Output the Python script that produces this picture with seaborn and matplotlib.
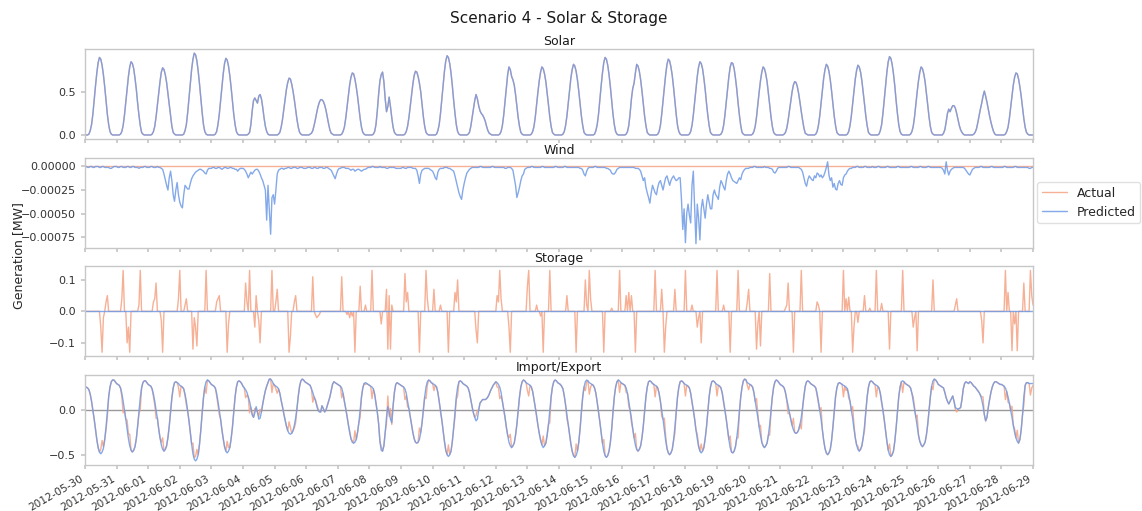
import numpy as np
import pandas as pd
import matplotlib
matplotlib.use("Agg")
import matplotlib.pyplot as plt
import matplotlib.dates as mdates
import seaborn as sns

# ---------------------------------------------------------------------------
# Hourly series, 2012-05-30 00:00 .. 2012-06-29 00:00 (one row per day + end)
# ---------------------------------------------------------------------------
START = "2012-05-30 00:00"

# Solar generation [MW] (forecast and measurement coincide)
solar = [
    [0,0,0,.01,.05,.12,.24,.41,.57,.72,.84,.90,.88,.81,.70,.56,.40,.24,.12,.04,.01,0,0,0],
    [0,0,0,.01,.04,.11,.23,.38,.54,.68,.79,.85,.83,.77,.66,.53,.37,.23,.11,.03,.01,0,0,0],
    [0,0,0,.01,.04,.10,.21,.35,.49,.62,.73,.78,.76,.70,.61,.48,.34,.21,.10,.03,.01,0,0,0],
    [0,0,0,.01,.05,.12,.26,.43,.60,.76,.88,.95,.93,.86,.74,.59,.42,.26,.12,.04,.01,0,0,0],
    [0,0,0,.01,.04,.12,.24,.40,.56,.71,.83,.89,.87,.80,.69,.55,.39,.24,.12,.04,.01,0,0,0],
    [0,0,0,0,.01,.03,.12,.28,.40,.43,.40,.37,.45,.47,.42,.32,.20,.10,.04,.01,0,0,0,0],
    [0,0,0,.01,.03,.09,.18,.30,.42,.53,.61,.66,.65,.59,.51,.41,.29,.18,.09,.03,.01,0,0,0],
    [0,0,0,.01,.02,.05,.11,.18,.26,.33,.38,.41,.41,.39,.35,.29,.21,.13,.06,.02,.01,0,0,0],
    [0,0,0,.01,.04,.09,.19,.32,.45,.58,.67,.72,.71,.65,.56,.45,.32,.19,.09,.03,.01,0,0,0],
    [0,0,0,.01,.04,.12,.28,.47,.63,.70,.73,.62,.42,.27,.33,.44,.33,.20,.09,.03,.01,0,0,0],
    [0,0,0,.01,.04,.10,.20,.33,.47,.59,.69,.74,.73,.68,.60,.50,.35,.21,.10,.03,.01,0,0,0],
    [0,0,0,.01,.05,.12,.25,.41,.58,.74,.86,.92,.90,.83,.72,.57,.40,.25,.12,.04,.01,0,0,0],
    [0,0,0,.01,.03,.10,.20,.30,.40,.47,.42,.34,.28,.25,.23,.20,.16,.10,.05,.02,.01,0,0,0],
    [0,0,0,.01,.04,.11,.23,.39,.55,.70,.79,.76,.68,.64,.58,.47,.34,.20,.10,.03,.01,0,0,0],
    [0,0,0,.01,.04,.10,.21,.36,.50,.63,.73,.79,.77,.71,.62,.49,.35,.21,.10,.03,.01,0,0,0],
    [0,0,0,.01,.04,.11,.22,.37,.52,.66,.76,.82,.80,.74,.64,.51,.36,.22,.11,.03,.01,0,0,0],
    [0,0,0,.01,.05,.12,.24,.41,.57,.72,.84,.90,.88,.81,.70,.56,.40,.24,.12,.04,.01,0,0,0],
    [0,0,0,.01,.04,.11,.25,.42,.54,.60,.72,.82,.80,.74,.64,.51,.36,.22,.11,.03,.01,0,0,0],
    [0,0,0,.01,.04,.11,.24,.40,.55,.70,.82,.88,.86,.79,.69,.55,.39,.24,.11,.04,.01,0,0,0],
    [0,0,0,.01,.04,.11,.23,.38,.54,.68,.79,.85,.83,.77,.66,.53,.37,.23,.11,.03,.01,0,0,0],
    [0,0,0,.01,.04,.11,.23,.38,.54,.68,.79,.84,.83,.77,.66,.53,.37,.23,.11,.03,.01,0,0,0],
    [0,0,0,.01,.04,.10,.21,.36,.50,.63,.73,.79,.77,.71,.62,.49,.35,.21,.10,.03,.01,0,0,0],
    [0,0,0,.01,.03,.08,.17,.28,.39,.50,.58,.62,.61,.56,.48,.38,.27,.17,.08,.02,.01,0,0,0],
    [0,0,0,.01,.04,.11,.22,.37,.52,.66,.76,.82,.80,.74,.64,.51,.36,.22,.11,.03,.01,0,0,0],
    [0,0,0,.01,.04,.11,.22,.36,.51,.65,.75,.81,.79,.73,.63,.50,.36,.22,.11,.03,.01,0,0,0],
    [0,0,0,.01,.05,.12,.25,.41,.58,.73,.85,.91,.89,.82,.71,.57,.40,.25,.12,.04,.01,0,0,0],
    [0,0,0,.01,.04,.10,.21,.36,.50,.63,.73,.79,.77,.71,.62,.49,.35,.21,.10,.03,.01,0,0,0],
    [0,0,0,0,.02,.06,.15,.25,.30,.27,.31,.34,.34,.31,.25,.18,.11,.06,.03,.01,0,0,0,0],
    [0,0,0,.01,.03,.07,.14,.22,.30,.37,.45,.51,.45,.38,.30,.22,.15,.09,.04,.01,0,0,0,0],
    [0,0,0,.01,.04,.09,.19,.32,.45,.58,.67,.72,.71,.65,.56,.45,.32,.19,.09,.03,.01,0,0,0],
]
solar_end = 0.0

# Wind generation forecast, in units of 1e-5 MW (the measured output stays at 0)
wind_pred_e5 = [
    [0,0,-1,-1,0,0,-1,-1,0,0,0,-1,-1,0,0,-1,-1,-1,-1,-2,-2,-1,0,0],
    [0,-1,-1,0,0,-1,-1,-1,0,0,-1,-1,0,0,-1,-1,-1,-2,-1,-1,-1,0,0,-1],
    [-1,-1,0,0,-1,-1,-1,0,-1,-1,-2,-3,-8,-14,-20,-25,-12,-5,-15,-30,-37,-25,-17,-30],
    [-38,-42,-44,-30,-20,-22,-24,-24,-18,-13,-10,-8,-6,-5,-4,-3,-3,-4,-5,-7,-8,-4,-2,-2],
    [-2,-1,-1,-2,-2,-1,-1,-2,-3,-2,-1,-1,-2,-2,-1,-1,-2,-2,-3,-3,-5,-3,-2,-2],
    [-2,-3,-5,-8,-12,-9,-6,-8,-6,-4,-3,-3,-5,-8,-12,-15,-20,-25,-57,-20,-45,-72,-33,-30],
    [-40,-25,-8,-4,-3,-2,-2,-3,-2,-2,-1,-1,-2,-2,-1,-1,-1,-2,-2,-1,-1,-1,-2,-2],
    [-2,-1,-1,-1,-2,-2,-1,-1,-2,-2,-1,-1,-1,-2,-2,-1,-1,-2,-3,-4,-7,-10,-13,-8],
    [-4,-2,-2,-1,-1,-1,-2,-2,-2,-3,-4,-3,-3,-5,-4,-3,-3,-4,-5,-4,-3,-3,-2,-1],
    [-1,-1,0,0,-1,-1,-1,-1,0,-1,-1,-1,-1,-2,-2,-1,-1,-1,-1,-1,-2,-2,-2,-2],
    [-2,-1,-1,-2,-2,-1,-1,-1,-1,-2,-2,-2,-4,-10,-18,-8,-4,-3,-2,-2,-2,-2,-3,-4],
    [-5,-8,-12,-14,-6,-3,-2,-2,-2,-1,-1,-1,-2,-2,-3,-4,-5,-10,-16,-22,-28,-32,-35,-25],
    [-18,-12,-7,-5,-3,-2,-1,-1,-1,-1,-1,-1,0,0,-1,-1,-1,-1,-1,-1,-1,0,0,-1],
    [-1,-1,-1,-1,-1,-1,-1,-2,-2,-1,-1,-1,-2,-4,-12,-20,-33,-28,-22,-15,-10,-8,-3,-2],
    [-1,-1,-1,0,0,-1,-1,-1,-1,-1,-1,0,0,-1,-1,-1,-1,-1,-1,-1,-1,0,0,-1],
    [-1,-1,-1,-1,0,0,-1,-1,-1,-1,-1,-1,-1,-1,-1,-1,-2,-2,-4,-8,-10,-5,-2,-1],
    [-1,-1,-1,0,0,-1,-1,-1,-1,-1,-1,-1,-2,-2,-3,-4,-7,-8,-8,-6,-3,-2,-1,-1],
    [-1,-1,-1,-1,-1,-1,-1,-1,-1,-1,-2,-2,-2,-3,-5,-10,-15,-12,-22,-28,-33,-39,-28,-20],
    [-24,-28,-30,-22,-17,-15,-20,-25,-18,-12,-10,-15,-20,-15,-12,-10,-13,-15,-14,-12,-12,-35,-67,-45],
    [-81,-50,-40,-52,-60,-20,-5,-45,-82,-40,-55,-78,-45,-35,-45,-55,-40,-30,-38,-45,-45,-30,-25,-30],
    [-32,-35,-22,-15,-18,-22,-25,-15,-8,-5,-8,-12,-15,-16,-17,-18,-15,-12,-14,-8,-5,-3,-2,-2],
    [-2,-1,-1,-1,0,0,-1,-1,-1,-1,-1,-1,0,-1,-1,-1,-2,-2,-3,-6,-7,-5,-2,-1],
    [-1,-1,-1,-1,-1,-1,0,0,-1,-1,-1,-1,-1,-1,-1,-2,-3,-6,-12,-18,-21,-14,-10,-12],
    [-14,-15,-10,-12,-7,-8,-11,-9,-12,-10,-6,-1,5,-9,-15,-12,-22,-18,-24,-25,-18,-15,-19,-20],
    [-12,-9,-8,-5,-3,-2,-2,-1,-1,-1,0,0,-1,-1,-1,-1,0,0,-1,-1,-1,-1,0,-1],
    [-1,-1,0,0,-1,-1,-1,-1,-1,0,0,-1,-1,-1,-1,-1,-1,0,0,-1,-1,-1,-1,-1],
    [-1,-1,-1,0,0,-1,-1,-1,-1,-1,0,0,-1,-1,-1,-1,0,0,-1,-1,-1,-1,-1,-1],
    [-1,-1,-1,-2,-4,-8,5,-4,-9,-5,-3,-2,-1,-1,-1,-1,-1,-1,-1,-1,-2,-4,-6,-8],
    [-9,-6,-3,-2,-1,-1,-1,-1,0,0,-1,-1,-1,-1,-1,-1,0,0,-1,-1,-1,-1,-1,-1],
    [-1,-1,0,0,-1,-1,-1,-1,-1,-1,0,0,-1,-1,-1,-1,-1,-1,-1,-1,-1,-2,-2,-1],
]
wind_pred_end = -1
wind_actual_level = 0.0

# Battery dispatch [MW], measured (+ discharge / - charge); the forecast holds 0
storage = [
    [0,0,0,0,0,0,0,0,0,0,0,0,-.05,-.13,-.02,0,.03,.05,0,0,0,0,0,0],
    [0,0,0,0,.04,.13,0,0,-.10,-.05,-.13,0,0,0,0,0,0,.02,.13,0,0,0,0,0],
    [0,0,0,0,.03,.04,.09,0,0,0,-.03,-.13,0,0,0,0,0,0,0,0,0,0,0,.04],
    [.13,0,0,0,.02,.04,0,0,0,0,-.12,-.02,-.05,-.11,0,0,0,0,0,0,.13,0,0,0],
    [0,0,0,0,.03,.04,.05,0,0,0,0,0,-.13,-.04,0,0,0,0,0,0,0,0,0,0],
    [0,0,.09,.03,0,.13,0,0,0,-.05,.05,0,-.03,-.10,0,0,0,0,0,0,0,0,.13,0],
    [0,.03,.07,0,0,0,0,0,0,0,0,-.13,-.08,0,0,.03,.05,0,0,0,0,0,0,0],
    [0,0,0,0,0,.11,0,-.01,-.02,-.015,-.01,0,0,0,0,0,0,0,0,0,0,0,0,0],
    [0,0,0,.11,0,0,0,-.01,0,-.02,0,-.015,0,-.13,0,0,0,.08,0,0,0,.02,0,0],
    [0,0,.13,0,0,0,0,0,0,-.04,0,0,0,.07,-.12,.05,-.12,.02,0,0,0,0,0,0],
    [0,0,0,.12,.03,.06,0,0,0,0,0,0,0,0,-.13,0,0,0,0,.13,.04,0,0,0],
    [0,.07,0,0,0,0,.02,0,0,0,0,0,-.13,0,0,0,0,.06,.03,.10,0,0,0,0],
    [0,0,0,0,0,0,0,0,0,-.06,-.10,0,0,0,0,0,0,0,0,0,0,0,0,0],
    [0,.05,.03,.13,.04,0,0,0,0,0,-.05,-.13,0,0,0,0,0,0,0,0,0,0,0,0],
    [.08,.13,0,0,0,0,0,.02,0,0,-.015,0,-.13,0,0,0,0,.13,0,0,0,0,0,0],
    [0,0,0,0,0,0,.05,0,0,0,0,0,0,-.13,0,0,0,0,0,0,.10,.02,0,.13],
    [.04,0,0,0,0,0,0,0,0,0,-.13,0,0,0,0,0,.01,0,0,0,0,0,.13,0],
    [0,0,0,.05,0,.06,0,.05,0,0,-.13,0,0,0,0,0,0,0,0,0,0,0,0,0],
    [0,.13,0,0,0,0,.07,0,-.13,-.05,0,0,0,0,0,0,.07,0,0,0,0,0,0,0],
    [.13,0,0,0,0,.02,0,0,0,-.05,-.02,0,-.10,0,0,0,0,0,0,0,0,0,0,0],
    [.13,0,0,0,0,.02,0,0,0,0,-.13,0,0,0,0,0,.13,0,0,0,0,0,0,.03],
    [.07,0,0,0,0,0,-.12,-.04,0,-.11,0,0,0,0,0,0,.12,0,0,0,0,0,0,0],
    [0,0,0,0,.01,.02,.09,0,0,0,-.13,0,0,0,0,0,.13,0,0,0,0,0,0,0],
    [0,0,0,0,.03,.02,0,-.13,0,0,0,0,0,0,0,0,0,0,0,0,0,0,0,0],
    [.13,0,.04,0,.045,0,0,-.13,-.05,0,0,-.035,0,0,0,0,.05,0,0,0,.01,0,0,0],
    [0,.13,0,0,0,.025,0,0,0,0,0,-.12,0,0,0,0,0,0,0,0,0,.13,0,0],
    [0,0,0,0,0,-.05,-.02,0,-.125,0,0,0,0,0,0,0,0,0,0,0,.10,0,0,0],
    [0,0,0,0,0,0,0,0,0,0,0,0,0,.02,.04,0,0,0,0,0,0,0,0,0],
    [0,0,0,0,0,0,0,0,0,-.03,-.10,0,0,0,0,0,0,0,0,0,0,0,0,0],
    [0,0,0,.13,0,.06,0,0,-.125,0,-.04,0,-.125,0,0,0,0,.09,0,0,0,0,.13,.05],
]
storage_end = 0.02
storage_pred_level = 0.0

# Forecast net import (+) / export (-) at the grid connection [MW]
grid_pred = [
    [.26,.26,.25,.23,.18,.10,.00,-.10,-.22,-.33,-.42,-.47,-.49,-.47,-.43,-.33,-.19,-.02,.15,.26,.32,.34,.34,.32],
    [.30,.29,.28,.25,.19,.10,.00,-.10,-.21,-.32,-.40,-.45,-.47,-.45,-.41,-.32,-.18,-.02,.14,.25,.31,.33,.33,.31],
    [.29,.28,.27,.24,.18,.10,.00,-.09,-.21,-.31,-.39,-.44,-.46,-.44,-.40,-.31,-.18,-.02,.14,.25,.31,.32,.31,.30],
    [.28,.27,.26,.24,.18,.10,-.01,-.12,-.25,-.38,-.49,-.55,-.57,-.55,-.50,-.38,-.22,-.03,.14,.26,.32,.34,.33,.31],
    [.29,.28,.27,.25,.19,.10,.00,-.10,-.22,-.32,-.41,-.46,-.48,-.46,-.42,-.32,-.19,-.02,.15,.26,.32,.33,.32,.30],
    [.27,.25,.23,.20,.15,.10,.03,-.05,-.08,-.03,.04,-.02,-.10,-.09,-.02,.07,.15,.22,.27,.31,.35,.35,.33,.30],
    [.28,.27,.26,.24,.19,.11,.04,-.04,-.11,-.18,-.23,-.26,-.27,-.26,-.23,-.17,-.09,.02,.16,.27,.33,.35,.34,.32],
    [.31,.30,.29,.28,.24,.20,.15,.11,.05,.00,-.02,-.02,.05,.02,-.02,.00,.05,.10,.15,.22,.29,.32,.31,.30],
    [.29,.28,.27,.25,.19,.10,.02,-.07,-.16,-.25,-.32,-.36,-.37,-.36,-.33,-.25,-.14,.00,.15,.25,.30,.31,.30,.29],
    [.28,.27,.26,.24,.18,.08,-.02,-.15,-.35,-.45,-.46,-.40,-.25,-.08,.04,-.02,-.10,-.14,.05,.20,.29,.31,.30,.29],
    [.28,.27,.26,.24,.19,.10,.02,-.07,-.16,-.25,-.32,-.36,-.37,-.36,-.33,-.25,-.14,.00,.15,.26,.32,.34,.33,.31],
    [.30,.29,.28,.26,.20,.10,.00,-.11,-.23,-.35,-.45,-.50,-.52,-.50,-.46,-.35,-.20,-.02,.15,.26,.32,.33,.32,.30],
    [.29,.28,.27,.25,.20,.12,.04,-.03,-.08,-.12,-.10,.00,.08,.10,.12,.12,.12,.13,.15,.18,.22,.25,.28,.30],
    [.32,.31,.29,.26,.20,.10,.01,-.08,-.19,-.28,-.36,-.40,-.42,-.40,-.37,-.28,-.16,-.01,.15,.26,.32,.34,.33,.31],
    [.30,.29,.28,.26,.21,.12,.03,-.06,-.17,-.26,-.34,-.39,-.42,-.40,-.37,-.28,-.16,-.01,.15,.26,.32,.34,.33,.31],
    [.30,.29,.27,.24,.16,.06,-.05,-.16,-.27,-.38,-.46,-.51,-.53,-.51,-.46,-.36,-.21,-.02,.15,.26,.32,.34,.33,.31],
    [.30,.29,.28,.25,.19,.09,-.02,-.13,-.25,-.37,-.46,-.51,-.53,-.51,-.46,-.36,-.21,-.02,.15,.26,.32,.34,.33,.31],
    [.30,.29,.28,.25,.19,.10,.00,-.09,-.21,-.31,-.39,-.44,-.46,-.44,-.40,-.31,-.18,-.02,.15,.26,.32,.33,.32,.30],
    [.29,.28,.27,.25,.19,.10,.00,-.10,-.22,-.34,-.43,-.48,-.50,-.48,-.44,-.34,-.19,-.02,.15,.26,.32,.33,.32,.30],
    [.29,.28,.27,.25,.19,.10,.00,-.10,-.22,-.32,-.41,-.46,-.48,-.46,-.42,-.32,-.19,-.02,.15,.26,.32,.33,.32,.30],
    [.29,.28,.27,.25,.19,.10,.00,-.10,-.22,-.33,-.42,-.47,-.48,-.46,-.41,-.31,-.18,-.02,.15,.26,.33,.35,.34,.31],
    [.30,.29,.28,.26,.20,.10,.01,-.08,-.19,-.28,-.36,-.40,-.42,-.40,-.37,-.28,-.16,-.01,.15,.26,.32,.34,.33,.31],
    [.29,.28,.27,.25,.20,.12,.05,-.03,-.10,-.17,-.22,-.25,-.26,-.25,-.22,-.16,-.08,.03,.16,.27,.32,.33,.32,.30],
    [.29,.28,.27,.25,.19,.10,.00,-.10,-.22,-.34,-.43,-.48,-.50,-.48,-.44,-.34,-.19,-.02,.15,.25,.30,.31,.30,.29],
    [.28,.27,.26,.24,.18,.10,.00,-.09,-.21,-.31,-.39,-.44,-.46,-.44,-.40,-.31,-.18,-.02,.15,.26,.32,.33,.32,.30],
    [.29,.28,.27,.25,.19,.10,.00,-.11,-.23,-.35,-.45,-.50,-.52,-.50,-.46,-.35,-.20,-.02,.15,.26,.32,.33,.32,.30],
    [.29,.28,.27,.25,.19,.10,.01,-.08,-.18,-.28,-.35,-.39,-.41,-.39,-.36,-.28,-.16,-.01,.15,.27,.33,.35,.34,.32],
    [.29,.28,.27,.26,.25,.20,.14,.10,.07,.10,.13,.16,.10,.03,.02,.01,.02,.03,.12,.24,.30,.32,.31,.30],
    [.32,.31,.29,.27,.26,.24,.22,.20,.17,.12,.05,-.05,-.12,-.08,.03,.12,.20,.26,.30,.32,.32,.31,.30,.29],
    [.29,.28,.27,.25,.21,.15,.08,.00,-.08,-.17,-.25,-.31,-.35,-.37,-.33,-.22,-.05,.15,.28,.31,.31,.30,.30,.30],
]
grid_pred_end = 0.30

TITLES = ["Solar", "Wind", "Storage", "Import/Export"]
C_ACTUAL = "#f5a283"
C_PRED = "#6f9ae6"


def hourly(rows, last):
    return np.concatenate([np.ravel(np.asarray(rows, dtype=float)), [last]])


times = pd.date_range(START, periods=30 * 24 + 1, freq="h")

solar_act = hourly(solar, solar_end)
solar_fc = solar_act.copy()
wind_fc = hourly(wind_pred_e5, wind_pred_end) * 1e-5
wind_act = np.full(len(times), wind_actual_level)
storage_act = hourly(storage, storage_end)
storage_fc = np.full(len(times), storage_pred_level)
grid_fc = hourly(grid_pred, grid_pred_end)
# metered grid exchange = forecast position minus what the battery supplied
grid_act = grid_fc - storage_act

panels = [
    (solar_act, solar_fc),
    (wind_act, wind_fc),
    (storage_act, storage_fc),
    (grid_act, grid_fc),
]

sns.set_theme(style="white")
plt.rcParams.update({
    "font.family": ["DejaVu Sans"],
    "axes.edgecolor": "0.78",
    "axes.linewidth": 1.0,
    "xtick.bottom": True,
    "ytick.left": True,
    "xtick.color": "0.78",
    "ytick.color": "0.78",
    "xtick.labelcolor": "0.2",
    "ytick.labelcolor": "0.2",
    "xtick.major.size": 3,
    "ytick.major.size": 3,
    "xtick.labelsize": 7.6,
    "ytick.labelsize": 8,
})

fig, axes = plt.subplots(4, 1, figsize=(11.42, 5.11), dpi=100, sharex=True)
fig.subplots_adjust(left=0.0744, right=0.9046, top=0.904, bottom=0.09, hspace=0.207)

for ax, title, (act, fc) in zip(axes, TITLES, panels):
    if title == "Import/Export":
        ax.axhline(0, color="0.6", lw=1.0, zorder=0)
    sns.lineplot(x=times, y=act, ax=ax, color=C_ACTUAL, lw=1.0, alpha=0.85,
                 label="Actual", legend=False)
    sns.lineplot(x=times, y=fc, ax=ax, color=C_PRED, lw=1.0, alpha=0.85,
                 label="Predicted", legend=False)
    ax.set_title(title, fontsize=9, pad=3, color="0.1")
    ax.set_xlabel("")
    ax.set_ylabel("")
    ax.set_xlim(times[0], times[-1])

axes[0].set_yticks([0.0, 0.5])
axes[1].set_yticks([0.0, -0.00025, -0.0005, -0.00075])
axes[2].set_yticks([-0.1, 0.0, 0.1])
axes[3].set_yticks([-0.5, 0.0])

axes[-1].xaxis.set_major_locator(mdates.DayLocator())
axes[-1].xaxis.set_major_formatter(mdates.DateFormatter("%Y-%m-%d"))
for lbl in axes[-1].get_xticklabels():
    lbl.set_rotation(30)
    lbl.set_ha("right")

axes[1].legend(loc="center left", bbox_to_anchor=(1.0, 0.5), fontsize=9,
               frameon=True, edgecolor="0.85", handlelength=2.0,
               handletextpad=0.8, borderpad=0.35, borderaxespad=0.35)

fig.suptitle("Scenario 4 - Solar & Storage", x=0.4895, y=0.978, fontsize=11, color="0.1")
fig.text(0.016, 0.5, "Generation [MW]", rotation=90, va="center", ha="center",
         fontsize=9, color="0.15")

fig.savefig("out.png", dpi=100)
